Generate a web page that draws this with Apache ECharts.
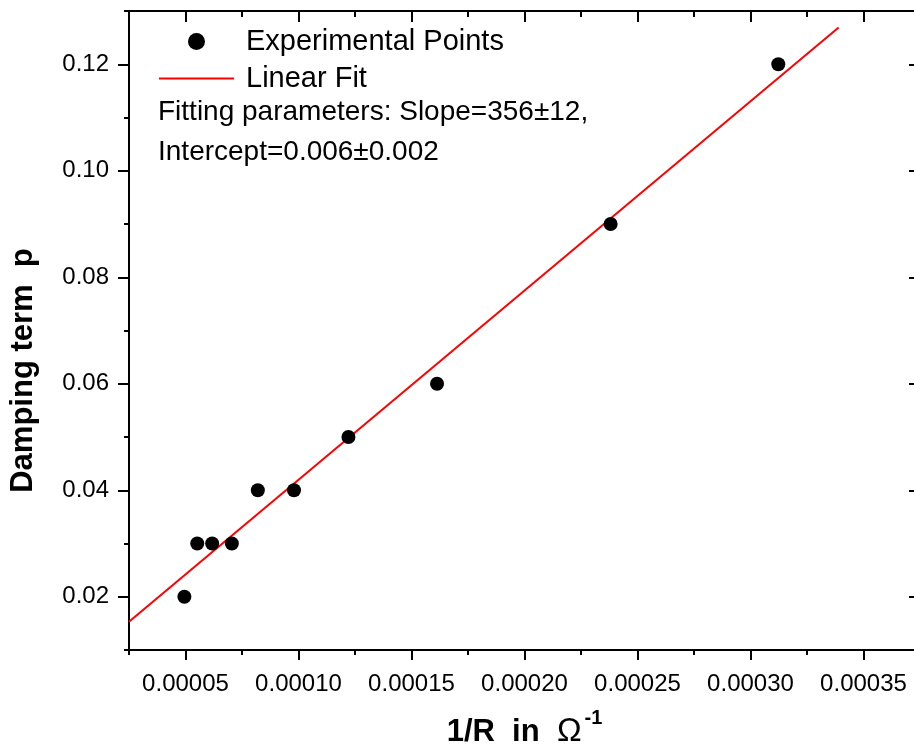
<!DOCTYPE html>
<html>
<head>
<meta charset="utf-8">
<script src="https://cdn.jsdelivr.net/npm/echarts@6/dist/echarts.min.js"></script>
<style>html,body{margin:0;padding:0;background:#fff;overflow:hidden;}#c{width:924px;height:754px;}</style>
</head>
<body>
<div id="c"></div>
<script>
// Data
var pointsX = [0.0000495, 0.0000552, 0.0000618, 0.0000705, 0.000082, 0.000098, 0.0001221, 0.0001613, 0.0002381, 0.0003123];
var pointsY = [0.02, 0.03, 0.03, 0.03, 0.04, 0.04, 0.05, 0.06, 0.09, 0.12];
var fitX = [0.000025, 0.000339];
var fitY = [0.0153, 0.1269];
var xMajorTicks = [0.00005, 0.0001, 0.00015, 0.0002, 0.00025, 0.0003, 0.00035];
var xMinorTicks = [0.000025, 0.000075, 0.000125, 0.000175, 0.000225, 0.000275, 0.000325, 0.000375];
var yMajorTicks = [0.02, 0.04, 0.06, 0.08, 0.10, 0.12];
var yMinorTicks = [0.01, 0.03, 0.05, 0.07, 0.09, 0.11, 0.13];
var seriesNames = ['Experimental Points', 'Linear Fit'];
var annotation = ['Fitting parameters: Slope=356\u00B112,', 'Intercept=0.006\u00B10.002'];

var FONT = '"Liberation Sans", Arial, sans-serif';
var XMIN = 0.000025, XMAX = 0.000375, YMIN = 0.01, YMAX = 0.13;

var scatterData = pointsX.map(function (x, i) { return [x, pointsY[i]]; });
var fitData = fitX.map(function (x, i) { return [x, fitY[i]]; });

function xAx(pos, ticks, len, inside, showLine, showLabel, extra) {
  var o = {
    type: 'value', position: pos, min: XMIN, max: XMAX, gridIndex: 0,
    axisLine: { show: showLine, onZero: false, lineStyle: { color: '#000', width: 2 } },
    axisTick: { show: true, inside: inside, length: len, customValues: ticks, lineStyle: { color: '#000', width: 2 } },
    axisLabel: { show: showLabel, customValues: ticks, margin: 22, fontSize: 24, color: '#000', fontFamily: FONT,
      formatter: function (v) { return v.toFixed(5); } },
    splitLine: { show: false }
  };
  if (extra) for (var k in extra) o[k] = extra[k];
  return o;
}
function yAx(pos, ticks, len, inside, showLine, showLabel, extra) {
  var o = {
    type: 'value', position: pos, min: YMIN, max: YMAX, gridIndex: 0,
    axisLine: { show: showLine, onZero: false, lineStyle: { color: '#000', width: 2 } },
    axisTick: { show: true, inside: inside, length: len, customValues: ticks, lineStyle: { color: '#000', width: 2 } },
    axisLabel: { show: showLabel, customValues: ticks, margin: 20, fontSize: 24, color: '#000', fontFamily: FONT,
      formatter: function (v) { return v.toFixed(2); } },
    splitLine: { show: false }
  };
  if (extra) for (var k in extra) o[k] = extra[k];
  return o;
}

var chart = echarts.init(document.getElementById('c'), null, { renderer: 'canvas' });
chart.setOption({
  backgroundColor: '#fff',
  animation: false,
  textStyle: { fontFamily: FONT },
  grid: { left: 129, right: 4, top: 11, bottom: 104, containLabel: false },
  xAxis: [
    xAx('bottom', xMajorTicks, 10, false, true, true, {
      name: '1/R  in  {om|\u03A9}{sup|-1}', nameLocation: 'middle', nameGap: 58,
      nameTextStyle: { fontSize: 31, fontWeight: 'bold', color: '#000', fontFamily: FONT,
        rich: {
          om: { fontSize: 33, fontWeight: 'normal', color: '#000', fontFamily: FONT },
          sup: { fontSize: 20, fontWeight: 'bold', color: '#000', fontFamily: FONT, padding: [0, 0, 28, 3] }
        } }
    }),
    xAx('bottom', xMinorTicks, 5, false, false, false),
    xAx('top', xMajorTicks, 11, true, true, false),
    xAx('top', xMinorTicks, 6, true, false, false)
  ],
  yAxis: [
    yAx('left', yMajorTicks, 11, false, true, true, {
      name: 'Damping term  p', nameLocation: 'middle', nameGap: 90,
      nameTextStyle: { fontSize: 31, fontWeight: 'bold', color: '#000', fontFamily: FONT, padding: [0, 80, 0, 0] }
    }),
    yAx('left', yMinorTicks, 5, false, false, false),
    yAx('right', yMajorTicks, 11, true, true, false),
    yAx('right', yMinorTicks, 6, true, false, false)
  ],
  legend: {
    left: 158, top: 27, padding: 0, orient: 'vertical', itemWidth: 75, itemHeight: 17, itemGap: 8,
    selectedMode: false,
    textStyle: { fontSize: 29, color: '#000', fontFamily: FONT, padding: [0, 0, 0, 7] },
    data: [
      { name: seriesNames[0], icon: 'circle' },
      { name: seriesNames[1], itemStyle: { opacity: 0 } }
    ]
  },
  graphic: [
    { type: 'text', left: 158, top: 98, style: { text: annotation[0], fontSize: 28, fill: '#000', fontFamily: FONT } },
    { type: 'text', left: 158, top: 138, style: { text: annotation[1], fontSize: 28, fill: '#000', fontFamily: FONT } }
  ],
  series: [
    { name: seriesNames[1], type: 'line', xAxisIndex: 0, yAxisIndex: 0, data: fitData, symbol: 'none',
      lineStyle: { color: '#ff0000', width: 2 }, itemStyle: { color: '#ff0000' }, z: 2 },
    { name: seriesNames[0], type: 'scatter', xAxisIndex: 0, yAxisIndex: 0, data: scatterData, symbol: 'circle',
      symbolSize: 14, itemStyle: { color: '#000', opacity: 1 }, z: 3 }
  ]
});
</script>
</body>
</html>
